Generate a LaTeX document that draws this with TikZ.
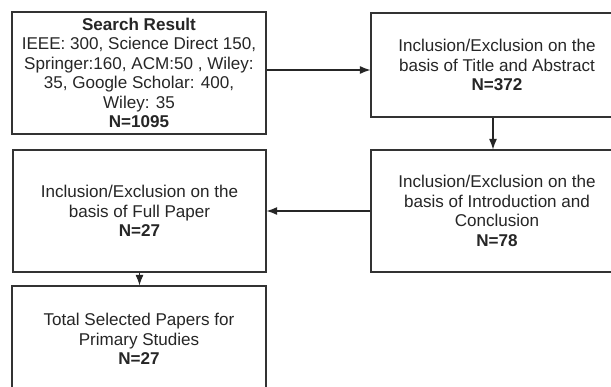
\documentclass[tikz,border=0pt]{standalone}
\usepackage{fontspec}
\setmainfont{Liberation Sans}
\usetikzlibrary{arrows.meta}
\begin{document}
\begin{tikzpicture}[x=0.75pt,y=-0.75pt,
  box/.style={draw=black!80,line width=0.8pt,align=center,inner sep=0pt,
    font=\fontsize{12.8}{14.6}\selectfont,text=black!85},
  arrow/.style={draw=black!85,line width=0.8pt,-{Latex[length=8pt,width=6pt]}}]
\useasboundingbox (0,0) rectangle (611,386);
\clip (0,0) rectangle (611,386);
\fill[white] (0,0) rectangle (611,386);
\node[box,minimum width=254*0.75pt,minimum height=122*0.75pt] (b1) at (139,73)
  {\textbf{Search Result}\\IEEE: 300, Science Direct 150,\\Springer:160, ACM:50 , Wiley:\\35, Google Scholar: 400,\\Wiley: 35\\\textbf{N=1095}};
\node[box,minimum width=252*0.75pt,minimum height=104*0.75pt] (b2) at (497,65)
  {Inclusion/Exclusion on the\\basis of Title and Abstract\\\textbf{N=372}};
\node[box,minimum width=252*0.75pt,minimum height=122*0.75pt] (b3) at (497,211)
  {Inclusion/Exclusion on the\\basis of Introduction and\\Conclusion\\\textbf{N=78}};
\node[box,minimum width=253*0.75pt,minimum height=122*0.75pt] (b4) at (139.5,211)
  {Inclusion/Exclusion on the\\basis of Full Paper\\\textbf{N=27}};
\node[box,minimum width=254*0.75pt,minimum height=106*0.75pt] (b5) at (139,339)
  {Total Selected Papers for\\Primary Studies\\\textbf{N=27}};
\draw[arrow] ([yshift=2.25pt]b1.east) -- ([yshift=2.25pt]b1.east -| b2.west);
\draw[arrow] ([xshift=-3pt]b2.south) -- ([xshift=-3pt]b2.south |- b3.north);
\draw[arrow] (b3.west) -- (b3.west -| b4.east);
\draw[arrow] (b4.south) -- (b4.south |- b5.north);
\end{tikzpicture}
\end{document}
